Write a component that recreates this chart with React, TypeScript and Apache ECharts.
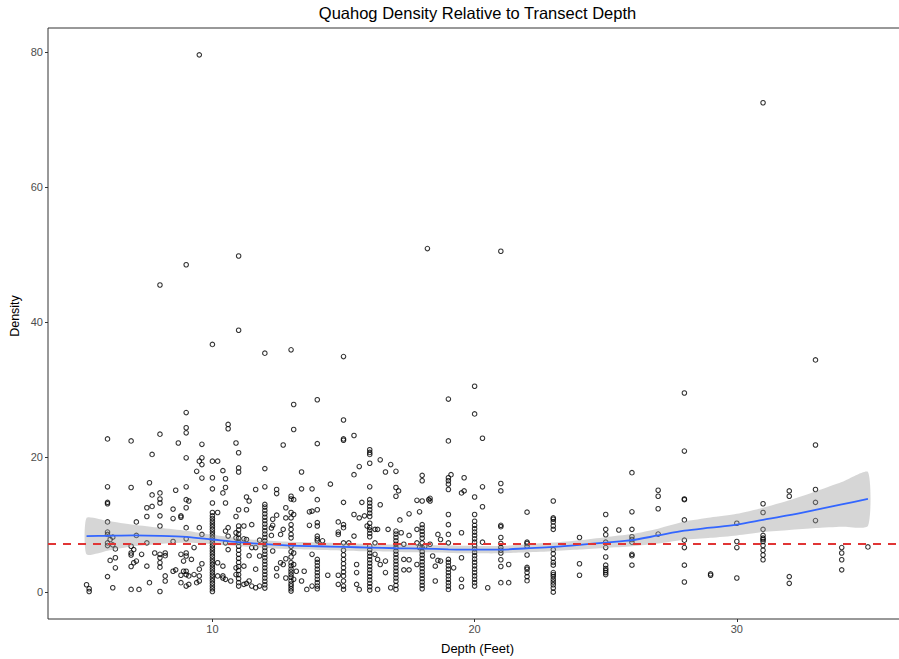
import React, { useEffect, useRef } from "react";
import * as echarts from "echarts";

// Quadrat samples grouped by transect depth (feet): [depth, densities at that depth]
const shallowSamples: [number, number[]][] = [
  [5.2, [1.1]],
  [5.3, [0.5, 0.1]],
  [6.0, [22.7, 15.6, 13.3, 13.1, 10.4, 8.9, 8.55, 7.3, 6.9, 2.3]],
  [6.1, [7.8, 4.7]],
  [6.2, [8.15, 7.0, 0.65]],
  [6.3, [6.4, 5.1, 3.6]],
  [6.9, [22.4, 15.5, 6.8, 5.8, 5.5, 3.8, 0.4]],
  [7.0, [6.3, 4.35]],
  [7.1, [10.4, 8.4, 4.6]],
  [7.2, [0.4]],
  [7.3, [5.6]],
  [7.5, [12.5, 11.2, 7.3, 3.85]],
  [7.6, [16.2, 1.4]],
  [7.7, [20.4, 14.4, 12.7]],
  [7.8, [5.8]],
  [8.0, [45.5, 23.4, 14.7, 13.8, 13.2, 11.3, 9.8, 5.6, 5.1, 4.35, 3.7, 0.1]],
  [8.2, [5.8, 5.4, 2.4, 1.65]],
  [8.5, [12.3, 10.9, 7.5, 3.1]],
  [8.6, [15.1, 3.3]],
  [8.7, [22.1]],
  [8.8, [11.3, 11.1, 5.6, 2.5, 1.4]],
  [8.9, [4.6, 3.1]],
  [9.0, [48.5, 26.6, 24.35, 23.6, 19.9, 15.6, 13.7, 12.5, 9.55, 7.9, 5.8, 5.35, 3.1, 2.6, 0.9]],
  [9.1, [13.5, 2.4, 1.15]],
  [9.2, [4.85]],
  [9.3, [6.6, 2.6]],
  [9.4, [17.9, 1.4]],
  [9.5, [79.6, 19.4, 9.55, 3.4, 2.4, 1.65]],
  [9.6, [21.9, 19.9, 18.9, 16.9, 8.55, 4.2]],
];

const midSamples: [number, number[]][] = [
  [10.0, [36.7, 19.4, 16.95, 15.3, 13.2, 11.8, 11.3, 10.9, 10.5, 10.1, 9.7, 9.3, 8.9, 8.5, 8.1, 7.7, 7.3, 6.9, 6.5, 6.1, 5.7, 5.3, 4.9, 4.5, 4.1, 3.7, 3.3, 2.9, 2.5, 2.1, 1.7, 1.3, 0.9, 0.5, 0.1]],
  [10.2, [19.4, 11.8, 4.35, 2.4]],
  [10.4, [18.0, 14.7, 3.85, 2.4, 2.1]],
  [10.5, [16.8, 15.5, 13.2, 9.05, 7.3, 1.9]],
  [10.6, [24.85, 24.2, 9.55, 8.3, 6.3]],
  [10.7, [1.65]],
  [10.9, [22.1, 11.2, 8.8, 8.05, 3.6, 2.6]],
  [11.0, [49.8, 38.8, 20.65, 18.4, 17.8, 12.2, 9.8, 9.2, 8.6, 8.0, 7.4, 6.8, 6.2, 5.6, 5.0, 4.4, 3.8, 3.2, 2.6, 2.0, 1.4, 0.9]],
  [11.2, [9.8, 7.9, 3.85, 1.15]],
  [11.3, [14.1, 12.2, 7.8, 1.3]],
  [11.4, [13.5, 5.4, 1.65]],
  [11.5, [10.0, 6.6, 0.9]],
  [11.65, [15.2, 6.6, 3.4, 0.65]],
  [11.8, [7.7, 5.35, 0.9]],
  [12.0, [35.4, 18.3, 15.6, 13.0, 12.6, 12.1, 11.6, 11.1, 10.6, 10.1, 9.6, 9.1, 8.6, 8.1, 7.6, 7.1, 6.6, 6.1, 5.6, 5.1, 4.6, 4.1, 3.6, 3.1, 2.6, 2.1, 1.6, 1.1, 0.6]],
  [12.25, [9.5, 8.4]],
  [12.3, [10.8, 9.9, 6.1]],
  [12.45, [15.2, 14.6, 11.4, 3.5, 2.4]],
  [12.6, [8.55, 4.35]],
  [12.7, [21.8, 9.3, 4.1]],
  [12.8, [12.5, 11.0, 4.95, 2.1]],
  [13.0, [35.9, 14.2, 13.8, 11.8, 11.0, 10.0, 9.3, 8.55, 8.05, 6.8, 6.0, 5.2, 4.35, 3.9, 3.4, 3.0, 2.6, 2.2, 1.65, 1.2, 0.9, 0.5, 0.15]],
  [13.1, [27.8, 24.1, 13.7, 11.5, 5.8, 4.1, 1.9]],
  [13.2, [3.1]],
  [13.4, [17.8, 15.3, 1.65]],
  [13.5, [3.1]],
  [13.6, [0.4]],
  [13.7, [11.9, 9.9]],
  [13.8, [15.3, 12.0, 5.6, 0.9]],
  [14.0, [28.5, 22.0, 13.7, 12.2, 10.3, 9.8, 8.3, 7.9, 7.6, 4.85, 4.4, 3.9, 3.4, 2.9, 2.4, 1.9, 1.4, 0.9, 0.5]],
  [14.2, [7.6]],
  [14.4, [2.5]],
  [14.5, [16.0]],
  [14.8, [10.4, 8.9, 8.55, 2.5, 1.15]],
  [15.0, [34.9, 25.5, 22.7, 22.5, 13.3, 10.0, 9.55, 7.3, 6.2, 5.5, 4.85, 4.2, 3.6, 3.0, 2.4, 1.65, 0.9, 0.4]],
  [15.2, [7.3]],
  [15.4, [23.2, 17.4, 11.5, 8.3]],
  [15.5, [4.1, 2.9, 1.15]],
  [15.6, [18.6, 11.0, 0.4]],
  [15.7, [13.3]],
  [15.8, [11.3]],
  [15.9, [9.8]],
  [16.0, [21.1, 20.7, 20.4, 19.1, 15.6, 13.7, 13.2, 12.7, 12.2, 11.7, 11.2, 10.2, 9.6, 9.2, 8.7, 8.2, 6.8, 6.3, 5.8, 5.3, 4.8, 4.3, 3.8, 3.3, 2.8, 2.3, 1.8, 1.3, 0.8, 0.3]],
  [16.2, [9.3, 7.3, 5.6]],
  [16.3, [9.3, 4.85, 0.4]],
  [16.4, [19.6, 12.95, 4.1]],
  [16.6, [17.8, 4.6, 2.9]],
  [16.7, [9.3]],
  [16.8, [18.9, 0.65]],
  [17.0, [17.9, 15.5, 14.2, 9.05, 8.6, 8.1, 7.6, 7.1, 6.6, 6.1, 5.6, 5.1, 4.6, 4.1, 3.6, 3.1, 2.6, 2.1, 1.6, 1.0, 0.4]],
  [17.1, [15.0]],
  [17.15, [10.7]],
  [17.2, [8.8]],
  [17.3, [7.1, 4.85, 3.3]],
  [17.5, [11.6, 8.4, 4.8, 3.3]],
  [17.8, [13.6, 9.3, 7.3, 4.1]],
  [17.9, [11.9, 6.6]],
  [18.0, [17.3, 16.5, 13.5, 10.0, 9.5, 9.0, 8.5, 8.0, 7.3, 6.6, 6.0, 5.5, 5.0, 4.5, 4.0, 3.5, 3.0, 2.5, 2.0, 1.5, 1.0, 0.5]],
  [18.1, [6.8]],
  [18.2, [50.9]],
  [18.25, [13.7]],
  [18.3, [13.9, 13.5, 7.1]],
  [18.4, [5.35]],
  [18.5, [3.85, 1.65]],
  [18.6, [8.55, 4.7]],
  [18.7, [7.8, 4.6]],
  [19.0, [28.6, 22.4, 16.95, 16.5, 16.0, 15.2, 11.5, 10.0, 8.55, 7.3, 4.85, 4.4, 3.9, 3.4, 2.9, 2.4, 1.9, 1.4, 0.9, 0.4]],
  [19.1, [17.4]],
  [19.2, [3.6]],
  [19.5, [14.7, 8.8, 5.1, 1.9, 0.8]],
  [19.6, [16.95, 15.0]],
  [20.0, [30.5, 26.4, 14.1, 11.5, 10.5, 9.9, 9.4, 8.9, 8.4, 7.9, 7.4, 6.9, 6.4, 5.9, 5.4, 4.9, 4.4, 3.9, 3.4, 2.9, 2.4, 1.9, 1.4, 0.9]],
  [20.3, [22.8, 15.6, 12.65, 7.4]],
  [20.5, [0.65]],
];

const deepSamples: [number, number[]][] = [
  [21.0, [50.5, 16.1, 15.0, 9.9, 9.7, 8.1, 7.2, 6.6, 6.2, 5.8, 4.8, 3.8, 1.4]],
  [21.3, [4.1, 1.4]],
  [22.0, [11.85, 7.4, 7.2, 6.8, 5.5, 3.66, 3.4, 2.9, 2.3, 1.7]],
  [23.0, [13.5, 11.0, 10.8, 10.4, 9.8, 9.3, 6.3, 5.7, 5.0, 4.4, 4.0, 2.9, 2.6, 2.3, 1.9, 1.5, 1.1, 0.6, 0.0]],
  [24.0, [8.1, 4.2, 2.5]],
  [25.0, [11.5, 9.3, 8.5, 7.4, 6.6, 5.2, 4.0, 3.5, 3.2, 2.9, 2.6]],
  [25.5, [9.2]],
  [26.0, [17.7, 11.9, 9.3, 8.2, 7.8, 7.4, 5.6, 5.4, 4.0]],
  [27.0, [15.1, 14.2, 12.35, 8.6]],
  [28.0, [29.5, 20.9, 13.8, 13.7, 10.7, 7.7, 6.6, 4.0, 1.5]],
  [29.0, [2.7, 2.5]],
  [30.0, [10.2, 7.5, 6.6, 2.1]],
  [31.0, [72.5, 13.1, 11.8, 9.3, 8.4, 8.0, 7.8, 7.5, 6.9, 6.2, 5.5, 4.8]],
  [32.0, [15.0, 14.2, 2.3, 1.3]],
  [33.0, [34.4, 21.8, 15.2, 13.3, 10.6]],
  [34.0, [6.6, 5.8, 4.8, 3.3]],
  [35.0, [6.7]],
];

// Loess fit of density on depth, with its 95% confidence band
const loessDepth = [5.2, 6, 7, 8, 9, 10, 11, 12, 13, 14, 15, 16, 17, 18, 19, 20, 21, 22, 23, 24, 25, 26, 27, 28, 29, 30, 31, 32, 33, 34, 35];
const loessFit = [8.3, 8.35, 8.4, 8.35, 8.2, 7.8, 7.4, 7.1, 6.9, 6.8, 6.7, 6.6, 6.5, 6.45, 6.35, 6.3, 6.3, 6.5, 6.7, 7.0, 7.35, 7.7, 8.4, 9.1, 9.55, 10.0, 10.7, 11.4, 12.2, 13.0, 13.8];
const loessLower = [5.6, 6.15, 6.8, 7.15, 7.3, 7.1, 6.8, 6.55, 6.35, 6.25, 6.15, 6.05, 5.95, 5.9, 5.8, 5.75, 5.75, 5.9, 6.05, 6.3, 6.55, 6.8, 7.2, 7.75, 8.05, 8.4, 8.9, 9.2, 9.5, 9.7, 9.8];
const loessUpper = [11.0, 10.55, 10.0, 9.55, 9.1, 8.5, 8.0, 7.65, 7.45, 7.35, 7.25, 7.15, 7.05, 7.0, 6.9, 6.85, 6.85, 7.1, 7.35, 7.7, 8.15, 8.6, 9.4, 10.45, 11.05, 11.6, 12.5, 13.6, 14.9, 16.3, 17.8];

// Overall mean density (dashed reference line)
const meanDensity = 7.2;

const xTicks = [10, 20, 30];
const yTicks = [0, 20, 40, 60, 80];

const FONT = "'Liberation Sans', Arial, sans-serif";

export default function App() {
  const ref = useRef<HTMLDivElement>(null);

  useEffect(() => {
    if (!ref.current) return;
    const chart = echarts.init(ref.current, null, { renderer: "svg" });

    const points = [...shallowSamples, ...midSamples, ...deepSamples].flatMap(
      ([depth, values]) => values.map((v) => [depth, v])
    );
    const band = loessDepth.map((d, i) => [d, loessLower[i], loessUpper[i]]);
    const fit = loessDepth.map((d, i) => [d, loessFit[i]]);

    // The panel runs a little past the right edge of the page
    const gridLeft = 48;
    const gridTop = 28;
    const gridWidth = 859;
    const gridHeight = 591;

    chart.setOption({
      animation: false,
      backgroundColor: "#ffffff",
      grid: {
        left: gridLeft,
        top: gridTop,
        width: gridWidth,
        height: gridHeight,
        outerBoundsMode: "none",
        containLabel: false,
        show: true,
        backgroundColor: "#ffffff",
        borderColor: "#333333",
        borderWidth: 1,
      },
      xAxis: {
        type: "value",
        min: 3.73,
        max: 36.49,
        splitLine: { show: false },
        axisLine: { show: false, onZero: false },
        axisTick: {
          show: true,
          customValues: xTicks,
          length: 3,
          lineStyle: { color: "#333333" },
        },
        axisLabel: {
          customValues: xTicks,
          color: "#4d4d4d",
          fontSize: 11,
          fontFamily: FONT,
          margin: 4,
        },
      },
      yAxis: {
        type: "value",
        min: -3.98,
        max: 83.58,
        splitLine: { show: false },
        axisLine: { show: false, onZero: false },
        axisTick: {
          show: true,
          customValues: yTicks,
          length: 3,
          lineStyle: { color: "#333333" },
        },
        axisLabel: {
          customValues: yTicks,
          color: "#4d4d4d",
          fontSize: 11,
          fontFamily: FONT,
          margin: 5,
        },
      },
      graphic: [
        {
          type: "text",
          style: {
            text: "Quahog Density Relative to Transect Depth",
            x: gridLeft + 429.5,
            y: 13,
            textAlign: "center",
            textVerticalAlign: "middle",
            font: `16.5px ${FONT}`,
            fill: "#000000",
          },
        },
        {
          type: "text",
          style: {
            text: "Depth (Feet)",
            x: gridLeft + 429.5,
            y: 648,
            textAlign: "center",
            textVerticalAlign: "middle",
            font: `13px ${FONT}`,
            fill: "#000000",
          },
        },
        {
          type: "text",
          x: 15,
          y: 316,
          rotation: Math.PI / 2,
          style: {
            text: "Density",
            x: 0,
            y: 0,
            textAlign: "center",
            textVerticalAlign: "middle",
            font: `12.5px ${FONT}`,
            fill: "#000000",
          },
        },
      ],
      series: [
        {
          type: "scatter",
          data: points,
          symbol: "circle",
          symbolSize: 4.5,
          itemStyle: {
            color: "rgba(255,255,255,0)",
            borderColor: "#000000",
            borderWidth: 1.1,
          },
          z: 1,
          silent: true,
        },
        {
          type: "custom",
          data: band,
          encode: { x: 0, y: [1, 2] },
          clip: true,
          z: 2,
          silent: true,
          renderItem: (params: any, api: any) => {
            if (params.dataIndex !== 0) return null;
            const upper = band.map((b) => api.coord([b[0], b[2]]));
            const lower = band.map((b) => api.coord([b[0], b[1]])).reverse();
            return {
              type: "polygon",
              shape: { points: [...upper, ...lower], smooth: 0.2 },
              style: { fill: "rgba(153,153,153,0.4)" },
            };
          },
        },
        {
          type: "line",
          data: fit,
          smooth: 0.3,
          showSymbol: false,
          lineStyle: { color: "#3366FF", width: 1.8 },
          z: 3,
          silent: true,
        },
        {
          type: "line",
          data: [],
          z: 4,
          silent: true,
          markLine: {
            silent: true,
            symbol: ["none", "none"],
            label: { show: false },
            lineStyle: { color: "#e03535", width: 2, type: [8, 7] },
            data: [{ yAxis: meanDensity }],
          },
        },
      ],
    });

    return () => chart.dispose();
  }, []);

  return (
    <div
      ref={ref}
      style={{ position: "absolute", left: 0, top: 0, width: 899, height: 659 }}
    />
  );
}
